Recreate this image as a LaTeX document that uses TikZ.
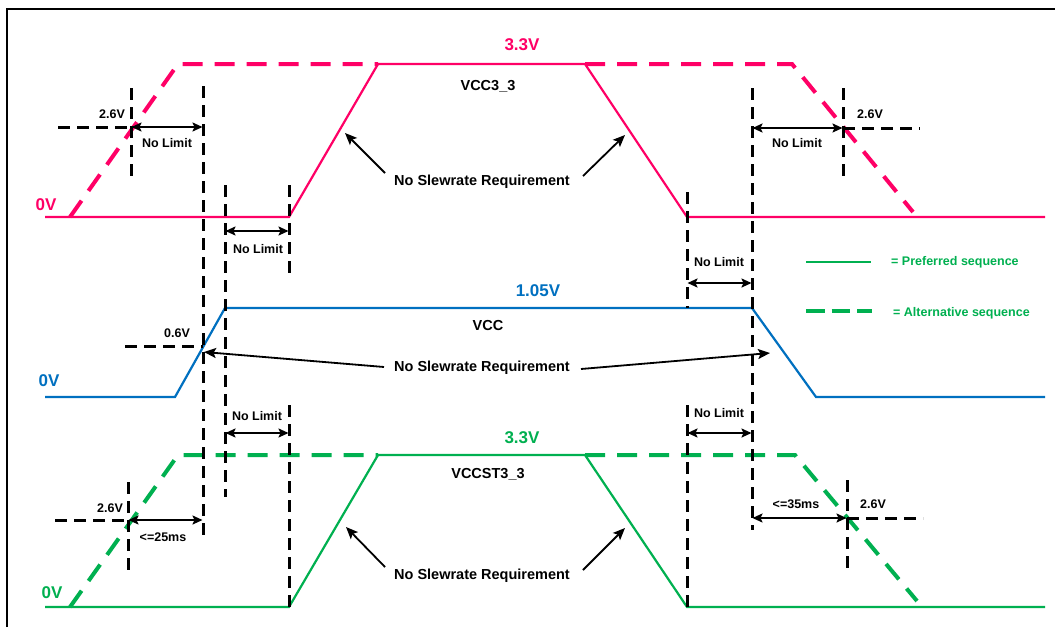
\documentclass[tikz,border=0pt]{standalone}
\usepackage{fontspec}
\setmainfont{Liberation Sans}
\usetikzlibrary{arrows.meta}
\definecolor{vpink}{RGB}{255,0,102}
\definecolor{vblue}{RGB}{0,112,192}
\definecolor{vgreen}{RGB}{0,176,80}
\begin{document}
\begin{tikzpicture}[x=1pt,y=-1pt,
  sig/.style={line width=2.2pt},
  alt/.style={line width=4pt, dash pattern=on 20pt off 12pt},
  guide/.style={black, line width=3pt, dash pattern=on 12pt off 7pt},
  dim/.style={black, line width=1.8pt, {Stealth[length=10pt,width=9pt,inset=2pt]}-{Stealth[length=10pt,width=9pt,inset=2pt]}, shorten <=0.5pt, shorten >=0.5pt},
  pointer/.style={black, line width=1.8pt, -{Stealth[length=12pt,width=10pt,inset=2.5pt]}},
  small/.style={font=\fontsize{12.5}{12.5}\selectfont\bfseries, inner sep=0pt},
  big/.style={font=\fontsize{14.5}{14.5}\selectfont\bfseries, inner sep=0pt},
  lvl/.style={font=\fontsize{17}{17}\selectfont\bfseries, inner sep=0pt},
]
\useasboundingbox (0,0) rectangle (1055,627);
\fill[white] (0,0) rectangle (1055,627);
\coordinate (frameBL) at (7,627);
\coordinate (frameTL) at (7,9);
\coordinate (frameTR) at (1055,9);
\draw[line width=2.2pt] (frameBL) -- (frameTL) -- (frameTR);

% ---------- VCC3_3 (pink) ----------
\coordinate (p0) at (45,217);
\coordinate (p1) at (289,217);
\coordinate (p2) at (378,64);
\coordinate (p3) at (585,64);
\coordinate (p4) at (687,217);
\coordinate (p5) at (1045,217);
\draw[sig,vpink] (p0) -- (p1) -- (p2) -- (p3) -- (p4) -- (p5);
\coordinate (pa0) at (70,217);
\coordinate (pa1) at (178,64);
\coordinate (pa2) at (792,64);
\coordinate (pa3) at (913,212);
\draw[alt,vpink] (pa0) -- (pa1) -- (p2);
\draw[alt,vpink] (p3) -- (pa2) -- (pa3);

% ---------- VCC (blue) ----------
\coordinate (b0) at (45,397);
\coordinate (b1) at (175,397);
\coordinate (b2) at (225,308);
\coordinate (b3) at (752,308);
\coordinate (b4) at (816,397);
\coordinate (b5) at (1045,397);
\draw[sig,vblue] (b0) -- (b1) -- (b2) -- (b3) -- (b4) -- (b5);

% ---------- VCCST3_3 (green) ----------
\coordinate (g0) at (45,607);
\coordinate (g1) at (289,607);
\coordinate (g2) at (378,455);
\coordinate (g3) at (585,455);
\coordinate (g4) at (687,607);
\coordinate (g5) at (1045,607);
\draw[sig,vgreen] (g0) -- (g1) -- (g2) -- (g3) -- (g4) -- (g5);
\coordinate (ga0) at (70,607);
\coordinate (ga1) at (178,455);
\coordinate (ga2) at (795,455);
\coordinate (ga3) at (917,601);
\draw[alt,vgreen] (ga0) -- (ga1) -- (g2);
\draw[alt,vgreen] (g3) -- (ga2) -- (ga3);

% ---------- guide lines ----------
\coordinate (v1t) at (131,88);   \coordinate (v1b) at (131,180);
\coordinate (h1l) at (58,127);   \coordinate (h1r) at (131,127);
\coordinate (v2t) at (203,86);   \coordinate (v2b) at (203,540);
\coordinate (v3t) at (225,185);  \coordinate (v3b) at (225,497);
\coordinate (v4t) at (289,185);  \coordinate (v4b) at (289,273);
\coordinate (h2l) at (125,346);  \coordinate (h2r) at (203,346);
\coordinate (v5t) at (289,405);  \coordinate (v5b) at (289,607);
\coordinate (v6t) at (687,192);  \coordinate (v6b) at (687,308);
\coordinate (v7t) at (752,88);   \coordinate (v7b) at (752,530);
\coordinate (v8t) at (843,88);   \coordinate (v8b) at (843,180);
\coordinate (h3l) at (843,128);  \coordinate (h3r) at (920,128);
\coordinate (v9t) at (687,405);  \coordinate (v9b) at (687,607);
\coordinate (v10t) at (128,482); \coordinate (v10b) at (128,573);
\coordinate (h4l) at (55,520);   \coordinate (h4r) at (128,520);
\coordinate (v11t) at (847,480); \coordinate (v11b) at (847,570);
\coordinate (h5l) at (847,518);  \coordinate (h5r) at (923,518);
\foreach \a/\b in {v1t/v1b,h1l/h1r,v2t/v2b,v3t/v3b,v4t/v4b,h2l/h2r,v5t/v5b,v6t/v6b,v7t/v7b,v8t/v8b,h3l/h3r,v9t/v9b,v10t/v10b,h4l/h4r,v11t/v11b,h5l/h5r}
  \draw[guide] (\a) -- (\b);

% ---------- dimension arrows ----------
\coordinate (d1l) at (131,127); \coordinate (d1r) at (203,127);
\coordinate (d2l) at (225,231); \coordinate (d2r) at (289,231);
\coordinate (d3l) at (687,283); \coordinate (d3r) at (752,283);
\coordinate (d4l) at (752,128); \coordinate (d4r) at (843,128);
\coordinate (d5l) at (225,433); \coordinate (d5r) at (289,433);
\coordinate (d6l) at (687,433); \coordinate (d6r) at (752,433);
\coordinate (d7l) at (128,520); \coordinate (d7r) at (203,520);
\coordinate (d8l) at (752,518); \coordinate (d8r) at (847,518);
\foreach \a/\b in {d1l/d1r,d2l/d2r,d3l/d3r,d4l/d4r,d5l/d5r,d6l/d6r,d7l/d7r,d8l/d8r}
  \draw[dim] (\a) -- (\b);

\node[small] (nl1) at (167,143) {No Limit};
\node[small] (nl2) at (258,249) {No Limit};
\node[small] (nl3) at (719,262) {No Limit};
\node[small] (nl4) at (797,143) {No Limit};
\node[small] (nl5) at (257,416) {No Limit};
\node[small] (nl6) at (719,413) {No Limit};
\node[small] (ms25) at (163,537) {<=25ms};
\node[small] (ms35) at (796,504) {<=35ms};
\node[small] (v26a) at (112,114) {2.6V};
\node[small] (v06) at (177,333) {0.6V};
\node[small] (v26b) at (870,114) {2.6V};
\node[small] (v26c) at (110,508) {2.6V};
\node[small] (v26d) at (873,504) {2.6V};

% ---------- signal labels ----------
\node[lvl,text=vpink] (top33) at (522,45) {3.3V};
\node[big] (vcc33) at (488,86) {VCC3\_3};
\node[lvl,text=vpink] (top0) at (46,205) {0V};
\node[lvl,text=vblue] (mid105) at (538,291) {1.05V};
\node[big] (vcc) at (488,326) {VCC};
\node[lvl,text=vblue] (mid0) at (49,381) {0V};
\node[lvl,text=vgreen] (bot33) at (522,438) {3.3V};
\node[big] (vccst) at (488,474) {VCCST3\_3};
\node[lvl,text=vgreen] (bot0) at (52,593) {0V};

% ---------- No Slewrate Requirement ----------
\node[big] (nsr1) at (482,182) {No Slewrate Requirement};
\node[big] (nsr2) at (482,368) {No Slewrate Requirement};
\node[big] (nsr3) at (482,576) {No Slewrate Requirement};
\coordinate (t1l) at (345,133); \coordinate (t1r) at (625,135);
\coordinate (t2l) at (204,352); \coordinate (t2r) at (770,353);
\coordinate (t3l) at (346,527); \coordinate (t3r) at (625,528);
\draw[pointer] (385,173) -- (t1l);
\draw[pointer] (583,176) -- (t1r);
\draw[pointer] (384,367) -- (t2l);
\draw[pointer] (581,369) -- (t2r);
\draw[pointer] (385,567) -- (t3l);
\draw[pointer] (583,570) -- (t3r);

% ---------- legend ----------
\coordinate (l1a) at (806,262); \coordinate (l1b) at (871,262);
\coordinate (l2a) at (806,311); \coordinate (l2b) at (872,311);
\draw[sig,vgreen] (l1a) -- (l1b);
\draw[vgreen,line width=4pt,dash pattern=on 18.5pt off 7pt] (l2a) -- (l2b);
\node[small,text=vgreen,anchor=west] (leg1) at (891,262) {= Preferred sequence};
\node[small,text=vgreen,anchor=west] (leg2) at (893,313) {= Alternative sequence};
\end{tikzpicture}
\end{document}
